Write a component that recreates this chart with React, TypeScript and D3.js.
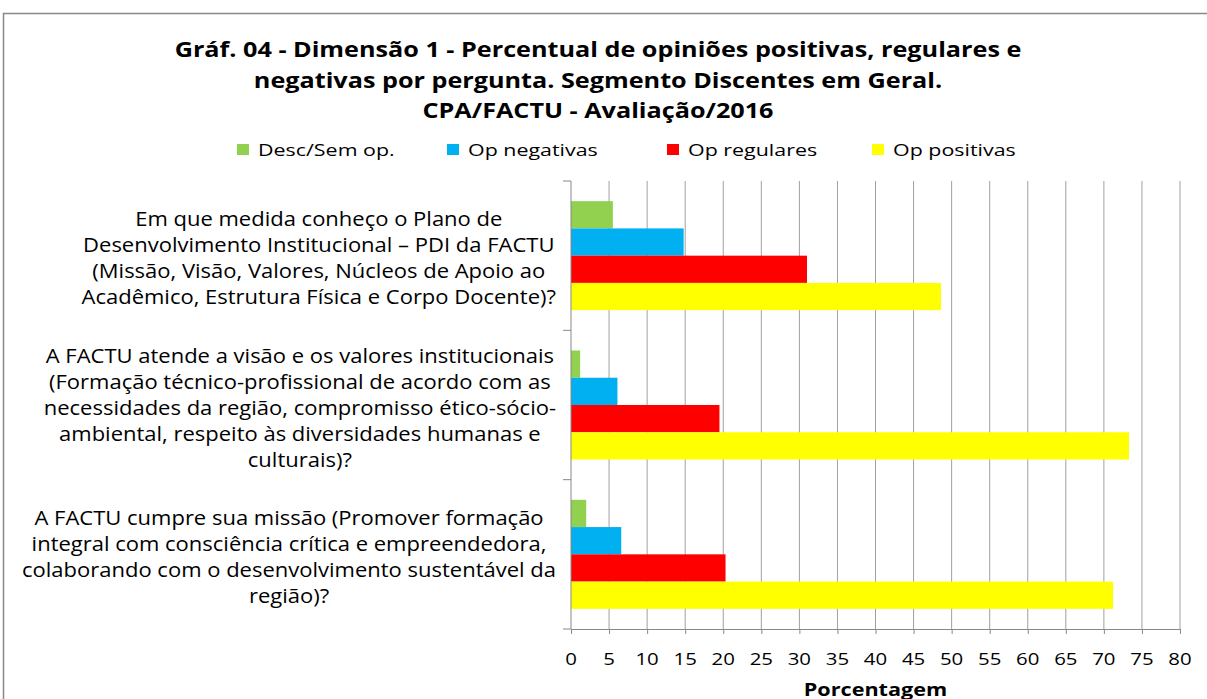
import React, { useEffect, useRef } from 'react';
import * as d3 from 'd3';

const categories = [
  ['Em que medida conheço o Plano de', 'Desenvolvimento Institucional – PDI da FACTU', '(Missão, Visão, Valores, Núcleos de Apoio ao', 'Acadêmico, Estrutura Física e Corpo Docente)?'],
  ['A FACTU atende a visão e os valores institucionais', '(Formação técnico-profissional de acordo com as', 'necessidades da região, compromisso ético-sócio-', 'ambiental, respeito às diversidades humanas e', 'culturais)?'],
  ['A FACTU cumpre sua missão (Promover formação', 'integral com consciência crítica e empreendedora,', 'colaborando com o desenvolvimento sustentável da', 'região)?'],
];

const seriesNames = ['Desc/Sem op.', 'Op negativas', 'Op regulares', 'Op positivas'];
const seriesColors = ['#92D050', '#00B0F0', '#FF0000', '#FFFF00'];

const descSemOp = [5.5, 1.2, 2.0];
const opNegativas = [14.8, 6.1, 6.6];
const opRegulares = [31.0, 19.5, 20.3];
const opPositivas = [48.6, 73.3, 71.2];

const xTicks = [0, 5, 10, 15, 20, 25, 30, 35, 40, 45, 50, 55, 60, 65, 70, 75, 80];

const titleLines = [
  'Gráf. 04 - Dimensão 1 - Percentual de opiniões positivas, regulares e',
  'negativas por pergunta. Segmento Discentes em Geral.',
  'CPA/FACTU - Avaliação/2016',
];

const W = 1207;
const H = 699;
const font = '"Open Sans", sans-serif';

export default function App() {
  const ref = useRef<SVGSVGElement>(null);

  useEffect(() => {
    const svg = d3.select(ref.current);
    svg.selectAll('*').remove();

    const left = 571, right = 1180, top = 181, bottom = 629;
    const values = [descSemOp, opNegativas, opRegulares, opPositivas];

    const x = d3.scaleLinear().domain([0, 80]).range([left, right]);
    const y = d3.scaleBand<number>().domain(d3.range(categories.length)).range([top, bottom]).paddingInner(0.27).paddingOuter(0.135);
    const ySub = d3.scaleBand<number>().domain(d3.range(seriesNames.length)).range([0, y.bandwidth()]);

    // text stretched sideways a bit, the source font is wider than what we have
    const label = (parent: any, tx: number, ty: number, txt: string, size: number, sx: number, anchor = 'start', bold = false) =>
      parent.append('text')
        .attr('transform', `translate(${tx},${ty}) scale(${sx},1)`)
        .attr('text-anchor', anchor)
        .style('font-family', font).style('font-size', size + 'px').style('font-weight', bold ? 'bold' : 'normal')
        .attr('fill', '#000')
        .text(txt);

    // chart border
    svg.append('path').attr('d', `M3.5,${H} V13.5 H${W}`).attr('fill', 'none').attr('stroke', '#888').attr('stroke-width', 1.5);

    // title
    titleLines.forEach((t, i) => label(svg, 598, 57 + i * 30.5, t, 21, 1.2, 'middle', true));

    // legend
    const legendX = [237, 447, 667, 872];
    seriesNames.forEach((s, i) => {
      svg.append('rect').attr('x', legendX[i]).attr('y', 144).attr('width', 12).attr('height', 11).attr('fill', seriesColors[i]);
      label(svg, legendX[i] + 21, 155.5, s, 17, 1.26);
    });

    // gridlines
    svg.append('g').selectAll('line').data(xTicks.slice(1)).join('line')
      .attr('x1', d => x(d)).attr('x2', d => x(d)).attr('y1', top).attr('y2', bottom)
      .attr('stroke', '#a0a0a0').attr('stroke-width', 1);

    // bars
    const groups = svg.append('g').selectAll('g').data(categories).join('g')
      .attr('transform', (d, i) => `translate(0, ${y(i)})`);
    groups.selectAll('rect').data((d, i) => values.map((v, s) => ({ v: v[i], s }))).join('rect')
      .attr('x', x(0)).attr('y', d => ySub(d.s)!).attr('height', ySub.bandwidth())
      .attr('width', d => x(d.v) - x(0)).attr('fill', d => seriesColors[d.s]);

    // x axis
    const xAxis = d3.axisBottom(x).tickValues(xTicks).tickSize(5).tickFormat(() => '');
    const xg = svg.append('g').attr('transform', `translate(0, ${bottom})`).call(xAxis);
    xg.select('.domain').attr('stroke', '#888');
    xg.selectAll('.tick line').attr('stroke', '#888');
    xTicks.forEach(t => label(svg, x(t), 665, String(t), 17, 1.2, 'middle'));

    // y axis
    svg.append('line').attr('x1', left).attr('x2', left).attr('y1', top).attr('y2', bottom).attr('stroke', '#888');
    const bounds = [top, ...d3.range(1, categories.length).map(i => y(i)! - y.step() * y.paddingInner() / 2), bottom];
    svg.append('g').selectAll('line').data(bounds).join('line')
      .attr('x1', left - 8).attr('x2', left).attr('y1', d => d).attr('y2', d => d).attr('stroke', '#888');

    // category labels, wrapped lines centred in a box that ends next to the axis
    const lineH = 26;
    const sx = 1.1;
    categories.forEach((lines, i) => {
      const cy = y(i)! + y.bandwidth() / 2;
      const g = svg.append('g');
      const nodes = lines.map((t, j) => label(g, 0, cy + (j - (lines.length - 1) / 2) * lineH + 9.5, t, 20, sx, 'middle'));
      let maxW = 0;
      nodes.forEach(n => { maxW = Math.max(maxW, n.node().getComputedTextLength() * sx); });
      g.attr('transform', `translate(${556 - maxW / 2}, 0)`);
    });

    // axis title
    label(svg, (left + right) / 2, 696, 'Porcentagem', 18, 1.2, 'middle', true);
  }, []);

  return (
    <svg ref={ref} width={W} height={H} style={{ position: 'absolute', left: 0, top: 0, background: '#fff' }} />
  );
}
